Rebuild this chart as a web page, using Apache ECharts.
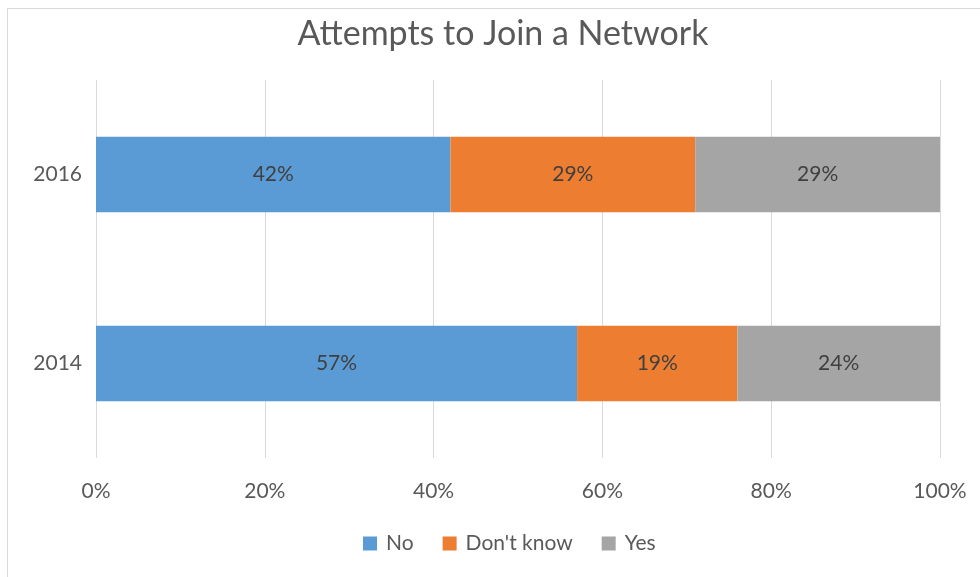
<!DOCTYPE html>
<html>
<head>
<meta charset="utf-8">
<script src="https://cdn.jsdelivr.net/npm/echarts@6/dist/echarts.min.js"></script>
<style>
  html, body { margin: 0; padding: 0; background: #fff; }
  #chart { width: 980px; height: 577px; position: relative; }
  #frame { position: absolute; left: 7px; top: 8px; width: 980px; height: 580px;
           border-left: 1px solid #d9d9d9; border-top: 1px solid #d9d9d9; pointer-events: none; }
</style>
</head>
<body>
<div id="chart"></div>
<div id="frame"></div>
<script>
// Survey answers by year, in percent
const years = ['2014', '2016'];
const noValues = [57, 42];
const dontKnowValues = [19, 29];
const yesValues = [24, 29];
const seriesNames = ['No', "Don't know", 'Yes'];
const xTicks = [0, 20, 40, 60, 80, 100];

const FONT = 'Lato, "Open Sans", sans-serif';
const colors = ['#5B9BD5', '#ED7D31', '#A5A5A5'];

const chart = echarts.init(document.getElementById('chart'));

function barSeries(name, values, color) {
  return {
    name: name,
    type: 'bar',
    stack: 'total',
    barCategoryGap: '60%',
    data: values,
    itemStyle: { color: color },
    label: {
      show: true,
      position: 'inside',
      formatter: p => p.value + '%',
      color: '#404040',
      fontFamily: FONT,
      fontSize: 21
    },
    emphasis: { disabled: true }
  };
}

chart.setOption({
  animation: false,
  color: colors,
  title: {
    text: 'Attempts to Join a Network',
    left: 498,
    textAlign: 'center',
    top: 12,
    textStyle: { fontFamily: FONT, fontSize: 34, fontWeight: 'normal', color: '#595959' }
  },
  legend: {
    data: seriesNames,
    bottom: 18,
    left: 358,
    itemWidth: 14,
    itemHeight: 14,
    itemGap: 29,
    icon: 'rect',
    textStyle: { fontFamily: FONT, fontSize: 21, color: '#595959', padding: [0, 0, 0, 4] }
  },
  grid: { left: 96, right: 40, top: 80, bottom: 119 },
  xAxis: {
    type: 'value',
    min: xTicks[0],
    max: xTicks[xTicks.length - 1],
    interval: 20,
    axisLine: { show: false },
    axisTick: { show: false },
    splitLine: { show: true, lineStyle: { color: '#d9d9d9', width: 1 } },
    axisLabel: {
      formatter: v => v + '%',
      fontFamily: FONT, fontSize: 21, color: '#595959', margin: 23
    }
  },
  yAxis: {
    type: 'category',
    data: years,
    axisLine: { show: false },
    axisTick: { show: false },
    axisLabel: { fontFamily: FONT, fontSize: 21, color: '#595959', margin: 14 }
  },
  series: [
    barSeries(seriesNames[0], noValues, colors[0]),
    barSeries(seriesNames[1], dontKnowValues, colors[1]),
    barSeries(seriesNames[2], yesValues, colors[2])
  ]
});
</script>
</body>
</html>
